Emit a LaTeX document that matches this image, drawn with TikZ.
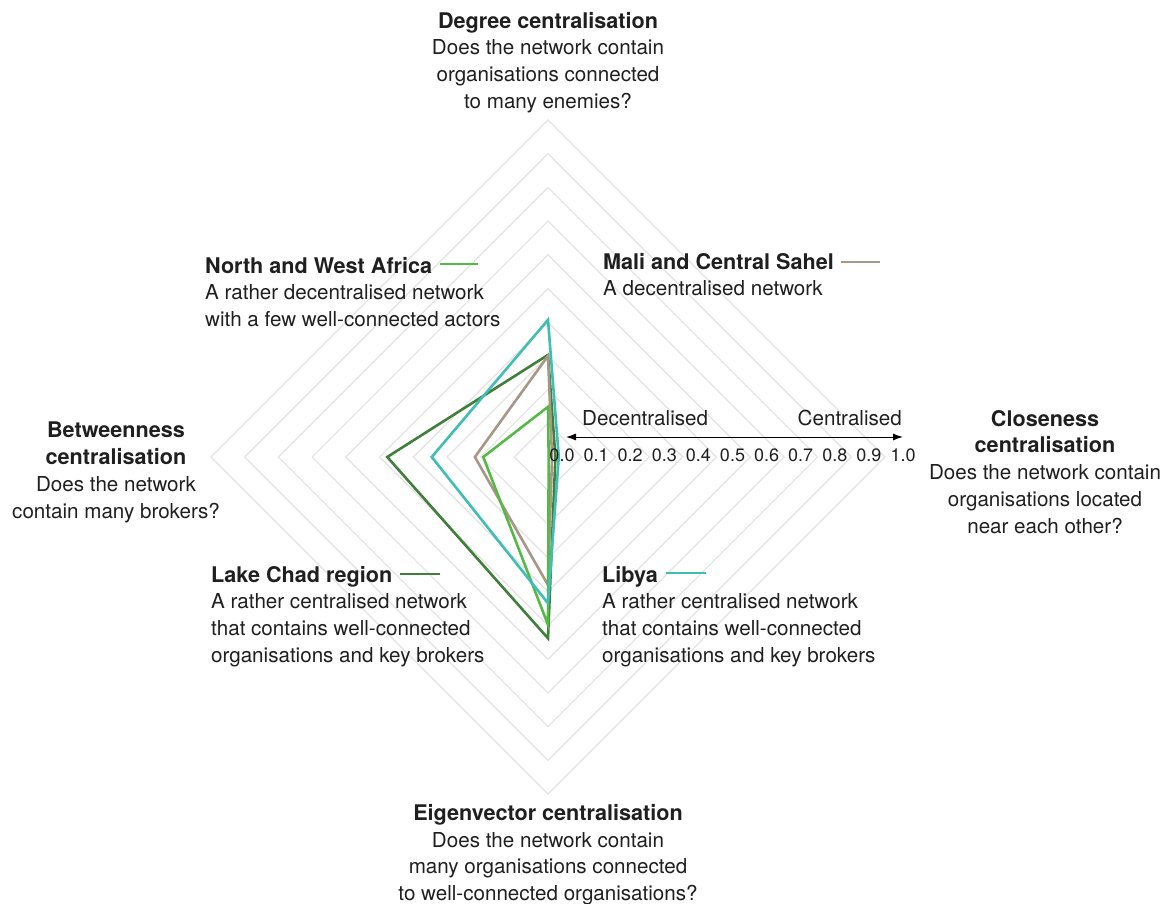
\documentclass[tikz,border=0pt]{standalone}
\usepackage{fontspec}
\setmainfont{TeX Gyre Heros}
\usetikzlibrary{arrows.meta}
\definecolor{cLight}{HTML}{56B947}
\definecolor{cDark}{HTML}{3F7F3A}
\definecolor{cTan}{HTML}{A89787}
\definecolor{cTeal}{HTML}{3FBFB3}
\definecolor{cRing}{HTML}{E3E3E3}
\newcommand\radarpoly[5]{\draw[series,#1] (548,{457-337*#2}) -- ({548+337*#3},457) -- (548,{457+337*#4}) -- ({548-337*#5},457) -- cycle;}
\newcommand\hb[1]{{\fontsize{21.6}{26.7}\selectfont\bfseries #1}}
\tikzset{
  ring/.style={draw=cRing, line width=1.2},
  series/.style={line width=2.6, line join=miter},
  txt/.style={font=\fontsize{20.6}{26.7}\selectfont, inner sep=0, text=black!88},
  num/.style={font=\fontsize{18}{20}\selectfont, inner sep=0, text=black!88},
  key/.style={line width=2.6},
}
\begin{document}
\begin{tikzpicture}[x=1pt,y=-1pt]
\useasboundingbox (0,0) rectangle (1170,904);
% grid rings
\foreach \i in {1,...,10}{
  \draw[ring] (548,{457-33.7*\i}) -- ({548+33.7*\i},457) -- (548,{457+33.7*\i}) -- ({548-33.7*\i},457) -- cycle;
}
% data series: top, right, bottom, left
\radarpoly{cDark}{0.303}{0.022}{0.538}{0.477}
\radarpoly{cTan}{0.300}{0.012}{0.380}{0.217}
\radarpoly{cLight}{0.149}{0.002}{0.498}{0.192}
\radarpoly{cTeal}{0.407}{0.032}{0.434}{0.345}
% scale arrow
\coordinate (sL) at (566,437);
\coordinate (sR) at (903,437);
\draw[{Latex[length=10,width=7]}-{Latex[length=10,width=7]}, line width=1] (sL) -- (sR);
\node[txt, anchor=west] (dec) at (582,418) {Decentralised};
\node[txt, anchor=east] (cen) at (902,418) {Centralised};
\foreach \v [count=\k from 0] in {0.0,0.1,0.2,0.3,0.4,0.5,0.6,0.7,0.8,0.9,1.0}{
  \node[num] (n\k) at ({562+34.1*\k},455) {\v};
}
% axis titles
\node[txt, anchor=north, align=center] (deg) at (548,12) {\hb{Degree centralisation}\\Does the network contain\\organisations connected\\to many enemies?};
\node[txt, anchor=north, align=center] (btw) at (116,422) {\hb{Betweenness}\\\hb{centralisation}\\Does the network\\contain many brokers?};
\node[txt, anchor=north, align=center] (clo) at (1045,410) {\hb{Closeness}\\\hb{centralisation}\\Does the network contain\\organisations located\\near each other?};
\node[txt, anchor=north, align=center] (eig) at (548,804) {\hb{Eigenvector centralisation}\\Does the network contain\\many organisations connected\\to well-connected organisations?};
% legend blocks
\node[txt, anchor=north west, align=left] (nwa) at (205,257) {\hb{North and West Africa}\\A rather decentralised network\\with a few well-connected actors};
\coordinate (nwaA) at (440,264); \coordinate (nwaB) at (478,264);
\draw[key, cLight] (nwaA) -- (nwaB);
\node[txt, anchor=north west, align=left] (mali) at (603,253) {\hb{Mali and Central Sahel}\\A decentralised network};
\coordinate (maliA) at (841,262); \coordinate (maliB) at (880,262);
\draw[key, cTan] (maliA) -- (maliB);
\node[txt, anchor=north west, align=left] (chad) at (211,566) {\hb{Lake Chad region}\\A rather centralised network\\that contains well-connected\\organisations and key brokers};
\coordinate (chadA) at (400,574); \coordinate (chadB) at (440,574);
\draw[key, cDark] (chadA) -- (chadB);
\node[txt, anchor=north west, align=left] (lib) at (602,566) {\hb{Libya}\\A rather centralised network\\that contains well-connected\\organisations and key brokers};
\coordinate (libA) at (666,573); \coordinate (libB) at (706,573);
\draw[key, cTeal] (libA) -- (libB);
\end{tikzpicture}
\end{document}
